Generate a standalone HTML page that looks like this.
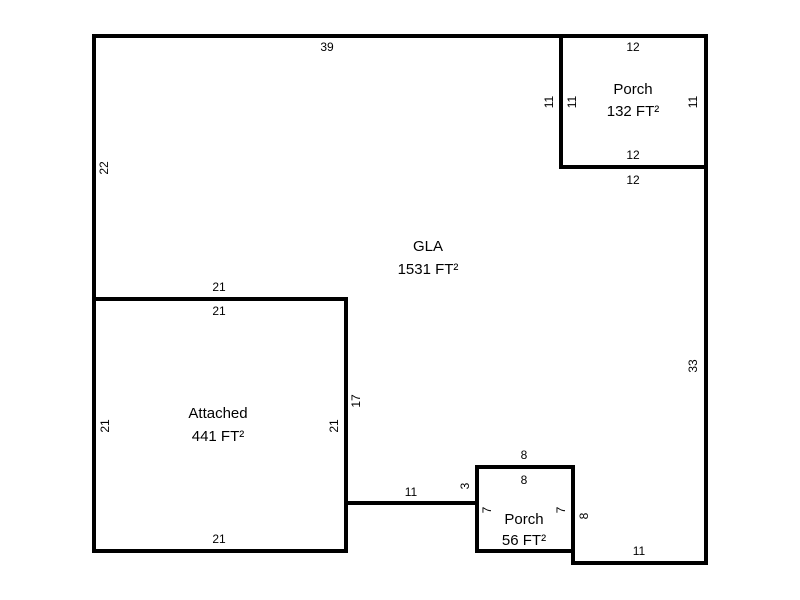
<!DOCTYPE html>
<html><head><style>body{margin:0;background:#fff}svg{display:block}text{font-family:"Liberation Sans",sans-serif;font-size:12px;fill:#000}.big{font-size:15px}</style></head><body>
<svg width="800" height="600" viewBox="0 0 800 600">
<g stroke="#000" stroke-width="4" fill="none" stroke-linecap="square">
<path d="M94 36H706V563H573V551"/>
<path d="M94 36V551H346V299H94"/>
<path d="M561 36V167H706"/>
<path d="M477 467H573V551H477Z"/>
<path d="M346 503H477"/>
</g>
<g text-anchor="middle">
<text x="327" y="51">39</text>
<text x="633" y="51">12</text>
<text x="633" y="159">12</text>
<text x="633" y="184">12</text>
<text x="633" y="94" class="big">Porch</text>
<text x="633" y="116" class="big">132 FT²</text>
<text x="428" y="251" class="big">GLA</text>
<text x="428" y="274" class="big">1531 FT²</text>
<text x="219" y="291">21</text>
<text x="219" y="315">21</text>
<text x="219" y="543">21</text>
<text x="218" y="418" class="big">Attached</text>
<text x="218" y="441" class="big">441 FT²</text>
<text x="411" y="496">11</text>
<text x="524" y="459">8</text>
<text x="524" y="484">8</text>
<text x="524" y="524" class="big">Porch</text>
<text x="524" y="545" class="big">56 FT²</text>
<text x="639" y="555">11</text>
<text transform="translate(108,168) rotate(-90)">22</text>
<text transform="translate(553,102) rotate(-90)">11</text>
<text transform="translate(576,102) rotate(-90)">11</text>
<text transform="translate(697,102) rotate(-90)">11</text>
<text transform="translate(697,366) rotate(-90)">33</text>
<text transform="translate(109,426) rotate(-90)">21</text>
<text transform="translate(338,426) rotate(-90)">21</text>
<text transform="translate(360,401) rotate(-90)">17</text>
<text transform="translate(469,486) rotate(-90)">3</text>
<text transform="translate(491,510) rotate(-90)">7</text>
<text transform="translate(565,510) rotate(-90)">7</text>
<text transform="translate(588,516) rotate(-90)">8</text>
</g>
</svg>
</body></html>
